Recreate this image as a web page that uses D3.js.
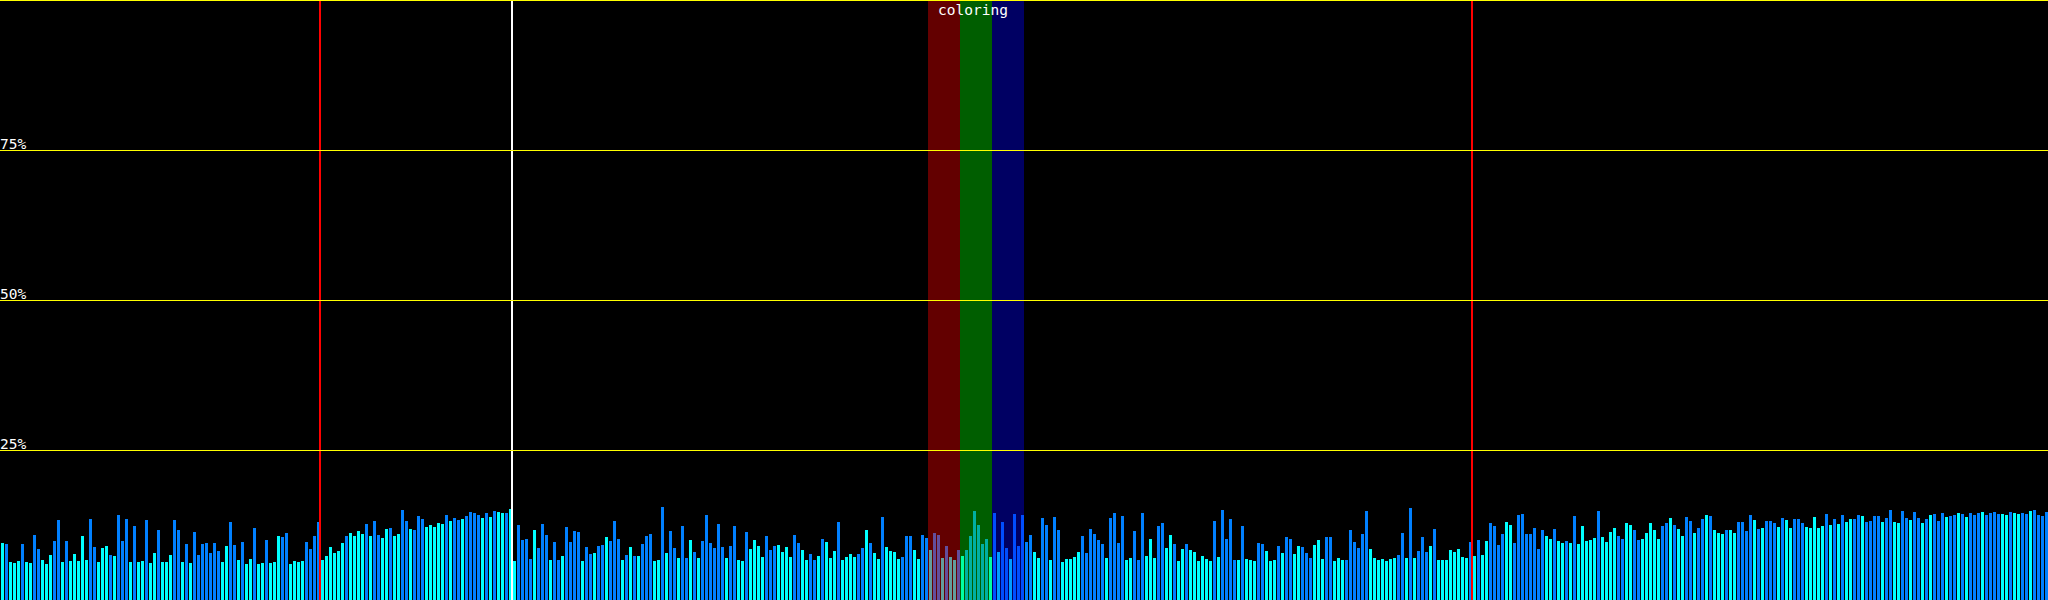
<!DOCTYPE html>
<html>
<head>
<meta charset="utf-8">
<script src="https://cdn.jsdelivr.net/npm/d3@7"></script>
<style>
  html, body { margin: 0; padding: 0; background: #000; overflow: hidden; }
  svg { display: block; }
  .label { font-family: "DejaVu Sans Mono", monospace; font-size: 14.5px; fill: #fff; }
</style>
</head>
<body>
<div id="chart"></div>
<script>
// bar values in percent of full height, one per array slot
const values = [
  9.5, 9.3, 6.3, 6.2, 6.5, 9.3, 6.3, 6.2, 10.8, 8.5,
  6.7, 6.0, 7.5, 9.8, 13.3, 6.3, 9.8, 6.5, 7.7, 6.5,
  10.7, 6.7, 13.5, 8.8, 6.3, 8.7, 9.0, 7.5, 7.3, 14.2,
  9.8, 13.5, 6.3, 12.3, 6.3, 6.5, 13.3, 6.2, 7.8, 11.7,
  6.3, 6.3, 7.5, 13.3, 11.7, 6.3, 9.3, 6.2, 11.3, 7.5,
  9.3, 9.5, 7.8, 9.5, 8.2, 6.3, 9.0, 13.0, 9.2, 6.7,
  9.7, 6.0, 6.8, 12.0, 6.0, 6.2, 10.0, 6.2, 6.3, 10.7,
  10.5, 11.2, 6.0, 6.5, 6.3, 6.5, 9.7, 8.5, 10.7, 13.0,
  6.7, 7.3, 8.8, 7.8, 8.2, 9.5, 10.7, 11.2, 10.7, 11.5,
  11.0, 12.7, 10.7, 13.2, 10.8, 10.3, 11.8, 12.0, 10.7, 11.0,
  15.0, 13.2, 11.8, 11.7, 14.0, 13.5, 12.2, 12.5, 12.2, 12.8,
  12.7, 14.2, 13.2, 13.7, 13.3, 13.5, 14.0, 14.7, 14.5, 14.2,
  13.7, 14.5, 13.8, 14.8, 14.7, 14.5, 14.5, 15.2, 6.5, 12.5,
  10.0, 10.2, 6.8, 11.7, 8.7, 12.7, 10.8, 6.7, 9.7, 6.7,
  7.3, 12.2, 9.7, 11.5, 11.3, 6.5, 8.8, 7.7, 7.8, 9.0,
  9.2, 10.5, 9.8, 13.2, 10.2, 6.7, 7.5, 8.8, 7.3, 7.3,
  9.3, 10.7, 11.0, 6.5, 6.7, 15.5, 7.8, 11.5, 8.7, 7.0,
  12.3, 7.0, 10.0, 8.0, 7.0, 9.8, 14.2, 9.5, 8.7, 12.7,
  8.8, 7.0, 9.0, 12.3, 6.7, 6.5, 11.3, 8.5, 10.0, 9.0,
  7.2, 10.7, 8.3, 9.0, 9.2, 8.0, 8.8, 7.2, 10.8, 9.5,
  8.3, 6.7, 7.7, 6.7, 7.3, 10.2, 9.7, 7.0, 8.2, 13.0,
  6.7, 7.2, 7.7, 7.2, 7.7, 8.7, 11.7, 9.5, 7.8, 6.8,
  13.8, 8.8, 8.2, 8.0, 6.8, 7.2, 10.7, 10.7, 8.3, 6.8,
  10.8, 10.3, 8.3, 11.2, 10.8, 7.0, 9.0, 7.2, 6.7, 8.3,
  7.3, 8.3, 10.7, 14.8, 12.5, 9.3, 10.2, 7.2, 14.5, 8.0,
  13.0, 8.7, 6.8, 14.3, 9.0, 14.2, 9.7, 10.8, 8.0, 7.0,
  13.7, 12.5, 6.7, 13.8, 11.7, 6.3, 6.8, 6.8, 7.2, 8.0,
  10.7, 7.8, 11.8, 11.0, 10.0, 9.3, 7.0, 13.7, 14.5, 9.5,
  14.0, 6.7, 7.0, 11.5, 6.7, 14.5, 7.3, 10.2, 7.0, 12.3,
  12.8, 8.7, 10.8, 9.3, 6.5, 8.5, 9.3, 8.3, 8.0, 6.5,
  7.3, 6.8, 6.5, 13.2, 7.2, 15.0, 10.2, 13.5, 6.7, 6.7,
  12.3, 6.8, 6.7, 6.5, 9.5, 9.3, 8.2, 6.5, 6.7, 9.0,
  7.8, 10.5, 10.2, 7.7, 9.0, 8.8, 7.8, 7.0, 9.2, 10.0,
  6.8, 10.5, 10.5, 6.5, 7.0, 6.7, 6.7, 11.7, 9.7, 8.7,
  11.0, 14.8, 8.5, 7.0, 6.7, 6.8, 6.5, 6.8, 7.0, 7.5,
  11.2, 7.0, 15.3, 7.0, 8.2, 10.5, 8.0, 9.0, 11.8, 6.7,
  6.7, 6.7, 8.3, 8.0, 8.5, 7.2, 7.0, 9.7, 7.3, 10.0,
  7.5, 9.8, 12.8, 12.3, 9.2, 11.0, 13.0, 12.5, 9.5, 14.2,
  14.3, 11.0, 11.0, 12.0, 8.5, 11.7, 10.7, 10.2, 11.8, 9.8,
  9.5, 9.8, 9.5, 14.0, 9.3, 12.3, 9.8, 10.0, 10.3, 14.8,
  10.5, 9.7, 11.3, 12.0, 10.7, 10.2, 12.8, 12.5, 11.7, 10.0,
  10.2, 11.2, 12.8, 11.7, 10.2, 12.3, 12.8, 13.7, 12.5, 11.8,
  10.7, 13.8, 13.2, 11.2, 12.0, 13.5, 14.2, 14.0, 11.7, 11.2,
  11.0, 11.7, 11.7, 11.2, 13.0, 13.0, 11.5, 14.2, 13.3, 11.8,
  12.0, 13.2, 13.2, 12.8, 12.2, 13.7, 13.3, 12.0, 13.5, 13.5,
  12.8, 12.2, 12.0, 13.8, 12.0, 12.3, 14.3, 12.5, 13.5, 12.7,
  14.2, 13.0, 13.5, 13.5, 14.2, 14.0, 13.0, 13.2, 14.0, 14.0,
  13.0, 13.7, 15.0, 13.0, 12.8, 14.8, 13.7, 13.3, 14.7, 13.7,
  12.8, 13.5, 14.2, 14.3, 13.2, 14.5, 13.8, 14.0, 14.2, 14.5,
  14.3, 13.8, 14.5, 14.2, 14.5, 14.7, 14.2, 14.5, 14.7, 14.3,
  14.3, 14.2, 14.7, 14.5, 14.3, 14.5, 14.3, 14.8, 15.0, 14.2,
  14.0, 14.7,
];

// bar kind per slot: c = cyan, b = blue (ten per chunk)
const kinds = [
  "cbcccbccbb", "cccbbcbccc", "ccbbcccbcb", "bbcbccbccb", "cccbbcbcbb",
  "bbbbbccbbc", "bccbccbccc", "bbccccbbbb", "ccccccbccc", "cbcbbccbcc",
  "bbcbbbcccc", "cbcbbcbbbb", "cbcbccbccb", "bbbcbbbcbb", "cbbbbcbbcb",
  "bcbbbcbcbc", "bbbccbcbbc", "bbcbcbbbbb", "bcbbccbccc", "cbbbccccbb",
  "ccbbcbcccb", "ccccbbcbcc", "bccccbbbcc", "bbcbbcbccb", "cbbbbbbcbc",
  "bbcbbbbbcc", "bbcbbccccc", "bbbbbbcbbb", "bccbbbcccb", "bccbccbccc",
  "cccbcbbbbc", "bcccbbcccb", "cbbccbbbcc", "cbbcccbbbb", "bbcccccccb",
  "bcbcbbbcbc", "cccccccbcb", "ccbbbbccbb", "bbbbbbccbc", "cbcbcccccb",
  "ccccbbccbb", "cccccbbcbc", "cbbcbbcbcc", "cbccbbbbcb", "cbbbcbccbb",
  "bcccccbcbc", "bccbbcbbbb", "cbbccbbcbb", "cbcbbbcbbc", "bcbbbcbbbb",
  "ccbccbbcbb", "bb",
].join("").split("");

// vertical markers (slot index)
const redMarkers = [80, 368];
const whiteMarkers = [128];

// highlighted "coloring" bands: first slot and channel
const bandStarts = [232, 240, 248];
const bandChannels = ["red", "green", "blue"];
const bandSize = 8;
const bandTitle = "coloring";

// horizontal grid lines and their labels
const gridValues = [25, 50, 75, 100];
const gridLabels = ["25%", "50%", "75%", ""];

(function () {
  const width = 2048;
  const height = 600;

  const kindColor = { c: "#00ffff", b: "#0080ff" };
  const bandColor = {
    red: "rgba(255, 0, 0, 0.39)",
    green: "rgba(0, 255, 0, 0.37)",
    blue: "rgba(0, 0, 255, 0.39)",
  };

  const svg = d3
    .select("#chart")
    .append("svg")
    .attr("width", width)
    .attr("height", height)
    .style("background", "#000");

  // slot index -> x, percent -> y
  const xScale = d3.scaleLinear().domain([0, values.length]).range([0, width]);
  const yScale = d3.scaleLinear().domain([0, 100]).range([height, 0]);
  const step = xScale(1) - xScale(0);

  // bars
  svg
    .append("g")
    .attr("shape-rendering", "crispEdges")
    .selectAll("rect.bar")
    .data(values)
    .join("rect")
    .attr("class", "bar")
    .attr("x", (d, i) => xScale(i) + 1)
    .attr("width", step - 1)
    .attr("y", (d) => Math.round(yScale(d)))
    .attr("height", (d) => height - Math.round(yScale(d)))
    .attr("fill", (d, i) => kindColor[kinds[i]]);

  // translucent channel bands over the bars
  svg
    .append("g")
    .attr("shape-rendering", "crispEdges")
    .selectAll("rect.band")
    .data(bandStarts)
    .join("rect")
    .attr("class", "band")
    .attr("x", (d) => xScale(d))
    .attr("width", (d) => xScale(d + bandSize) - xScale(d))
    .attr("y", 0)
    .attr("height", height)
    .attr("fill", (d, i) => bandColor[bandChannels[i]]);

  // band title, centred over the bands
  const bandMid =
    (xScale(d3.min(bandStarts)) + xScale(d3.max(bandStarts) + bandSize)) / 2;
  svg
    .append("text")
    .attr("class", "label")
    .attr("x", bandMid - 3)
    .attr("y", 15)
    .style("text-anchor", "middle")
    .text(bandTitle);

  // vertical markers
  const markers = redMarkers
    .map((d) => ({ i: d, color: "#ff0000" }))
    .concat(whiteMarkers.map((d) => ({ i: d, color: "#ffffff" })));
  svg
    .append("g")
    .attr("shape-rendering", "crispEdges")
    .selectAll("line.marker")
    .data(markers)
    .join("line")
    .attr("class", "marker")
    .attr("x1", (d) => xScale(d.i))
    .attr("x2", (d) => xScale(d.i))
    .attr("y1", 0)
    .attr("y2", height)
    .attr("stroke", (d) => d.color)
    .attr("stroke-width", 2);

  // horizontal grid lines
  svg
    .append("g")
    .selectAll("line.grid")
    .data(gridValues)
    .join("line")
    .attr("class", "grid")
    .attr("x1", 0)
    .attr("x2", width)
    .attr("y1", (d) => Math.round(yScale(d)) + 0.5)
    .attr("y2", (d) => Math.round(yScale(d)) + 0.5)
    .attr("stroke", "#ffff00")
    .attr("stroke-width", 1);

  // grid labels sit just above their line
  svg
    .append("g")
    .selectAll("text.grid-label")
    .data(gridValues)
    .join("text")
    .attr("class", "label grid-label")
    .attr("x", 0)
    .attr("y", (d) => yScale(d) - 1)
    .text((d, i) => gridLabels[i]);
})();
</script>
</body>
</html>
